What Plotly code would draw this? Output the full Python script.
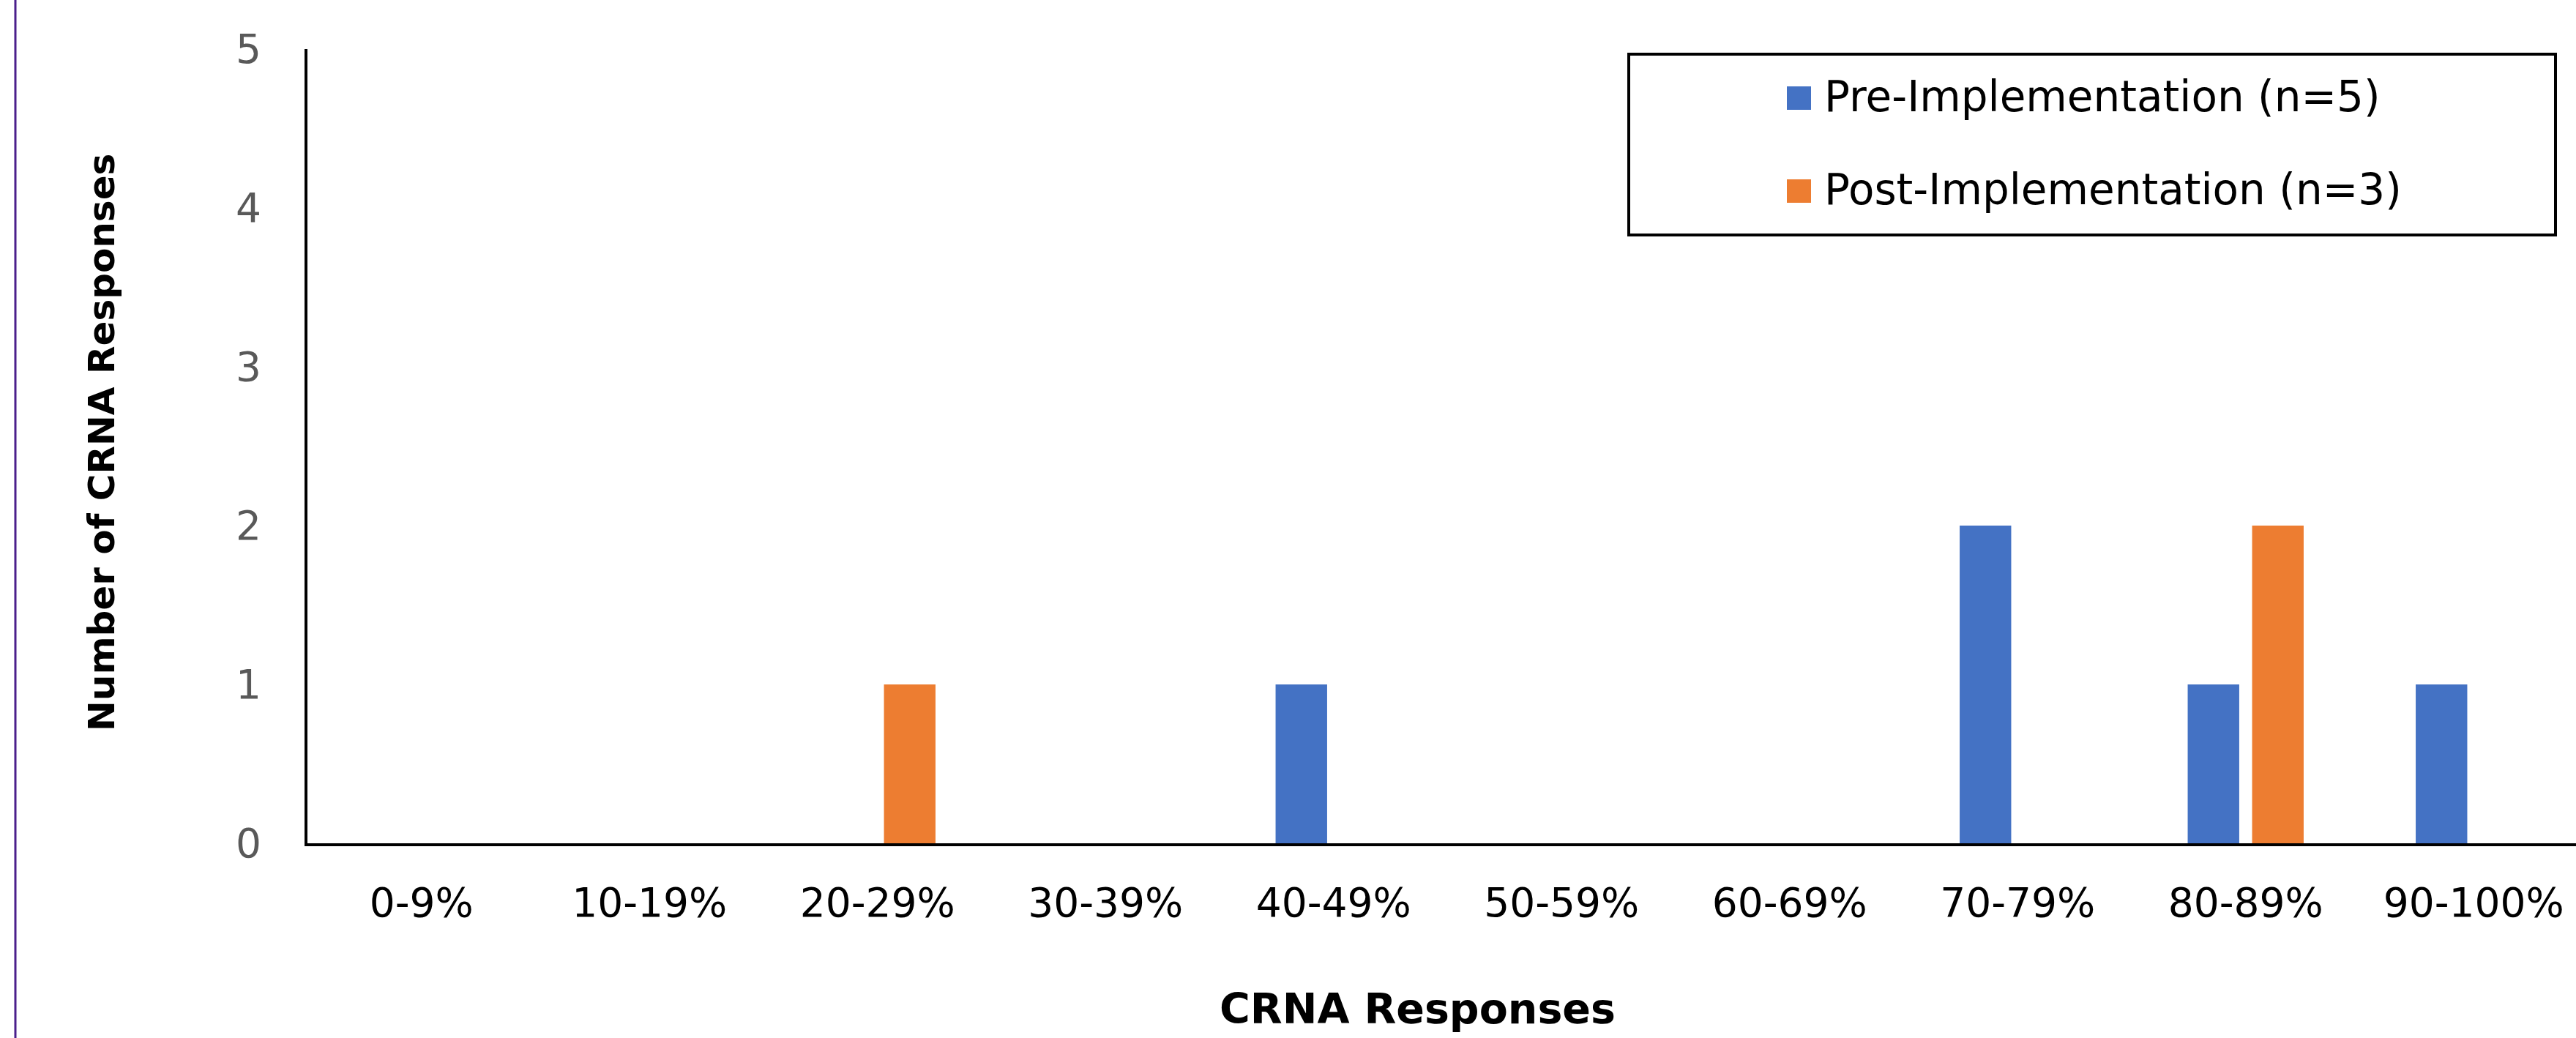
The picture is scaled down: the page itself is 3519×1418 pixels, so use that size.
import plotly.graph_objects as go

# Score bands on the x axis
categories = ["0-9%", "10-19%", "20-29%", "30-39%", "40-49%",
              "50-59%", "60-69%", "70-79%", "80-89%", "90-100%"]

# Number of CRNA responses falling in each band
pre_counts = [0, 0, 0, 0, 1, 0, 0, 2, 1, 1]
post_counts = [0, 0, 1, 0, 0, 0, 0, 0, 2, 0]

series_names = ["Pre-Implementation (n=5)", "Post-Implementation (n=3)"]
series_colors = ["#4472C4", "#ED7D31"]

y_ticks = [0, 1, 2, 3, 4, 5]

W, H = 3519, 1418
ML, MR, MT, MB = 420, 0, 67, 266
PW = W - ML - MR
PH = H - MT - MB


def px_x(x):
    """Pixel column -> paper x."""
    return (x - ML) / PW


def px_y(y):
    """Pixel row -> paper y."""
    return (H - MB - y) / PH


TICK_FONT = "DejaVu Sans"

fig = go.Figure()
for name, vals, col in zip(series_names, [pre_counts, post_counts], series_colors):
    fig.add_trace(go.Bar(
        x=categories, y=vals, name=name,
        marker=dict(color=col, line=dict(width=0)),
        showlegend=False,
    ))

fig.update_layout(
    width=W, height=H,
    margin=dict(l=ML, r=MR, t=MT, b=MB, pad=0),
    paper_bgcolor="white", plot_bgcolor="white",
    barmode="group", bargap=0.435, bargroupgap=0.2,
    xaxis=dict(
        range=[-0.5, -0.5 + PW / 311.5],
        showline=True, linecolor="black", linewidth=4,
        showgrid=False, zeroline=False, ticks="",
        tickfont=dict(family=TICK_FONT, size=55, color="black"),
        ticklabelstandoff=30,
    ),
    yaxis=dict(
        range=[0, 5], tickvals=y_ticks,
        showline=True, linecolor="black", linewidth=4,
        showgrid=False, zeroline=False, ticks="",
        tickfont=dict(family=TICK_FONT, size=55, color="#595959"),
        ticklabelstandoff=48,
    ),
)

# Axis titles
fig.add_annotation(
    text="<b>CRNA Responses</b>", xref="paper", yref="paper",
    x=px_x(1936), y=px_y(1378), xanchor="center", yanchor="middle",
    showarrow=False, font=dict(family="DejaVu Sans", size=57, color="black"),
)
fig.add_annotation(
    text="<b>Number of CRNA Responses</b>", xref="paper", yref="paper",
    x=px_x(139), y=px_y(605), xanchor="center", yanchor="middle",
    textangle=-90, showarrow=False,
    font=dict(family="DejaVu Sans", size=50, color="black"),
)

# Legend box with swatches
fig.add_shape(type="rect", xref="paper", yref="paper",
              x0=px_x(2225), x1=px_x(3491), y0=px_y(74), y1=px_y(321),
              line=dict(color="black", width=4), fillcolor="white", layer="above")
legend_rows = [134, 261]
for name, col, yc in zip(series_names, series_colors, legend_rows):
    fig.add_shape(type="rect", xref="paper", yref="paper",
                  x0=px_x(2441), x1=px_x(2474), y0=px_y(yc - 16), y1=px_y(yc + 16),
                  line=dict(width=0), fillcolor=col, layer="above")
    fig.add_annotation(
        text=name, xref="paper", yref="paper",
        x=px_x(2490), y=px_y(yc - 2), xanchor="left", yanchor="middle",
        showarrow=False, font=dict(family="DejaVu Sans", size=58, color="black"),
    )

# Left page border
fig.add_shape(type="line", xref="paper", yref="paper",
              x0=px_x(21), x1=px_x(21), y0=px_y(0), y1=px_y(H),
              line=dict(color="#4B1F8C", width=3), layer="above")

fig.write_html("out.html")
